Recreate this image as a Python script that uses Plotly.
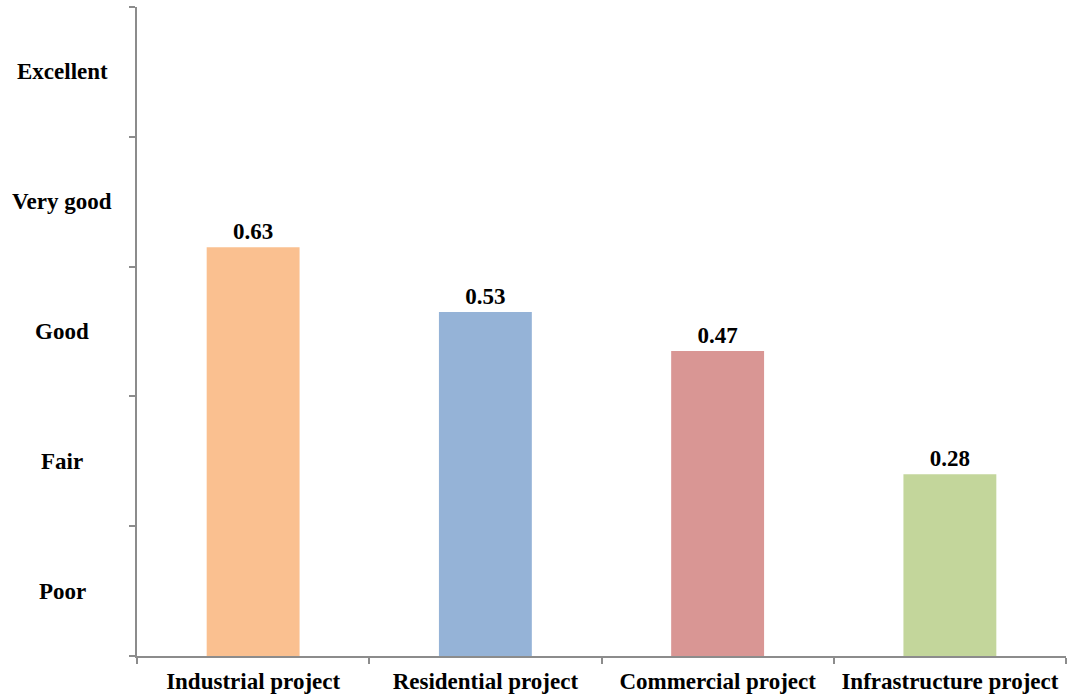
import plotly.graph_objects as go

# Project types and their mean rating scores
categories = ["Industrial project", "Residential project", "Commercial project", "Infrastructure project"]
scores = [0.63, 0.53, 0.47, 0.28]
bar_colors = ["#FAC090", "#95B3D7", "#D99694", "#C3D69B"]

# Verbal rating bands (band centres on the 0-1 score scale)
rating_labels = ["Poor", "Fair", "Good", "Very good", "Excellent"]
rating_centres = [0.1, 0.3, 0.5, 0.7, 0.9]
band_edges = [0, 0.2, 0.4, 0.6, 0.8, 1.0]

FONT = "Liberation Serif, Times New Roman, serif"
AXIS_GREY = "#8C8C8C"
FONT_SIZE = 23

# plot area in pixels
LEFT, RIGHT_EDGE = 137, 1066
LABEL_CENTRE_PX = 62

fig = go.Figure(
    go.Bar(
        x=categories,
        y=scores,
        width=0.4,
        marker=dict(color=bar_colors, line=dict(width=0)),
        text=[f"{v:.2f}" for v in scores],
        textposition="outside",
        cliponaxis=False,
        textfont=dict(family=FONT, size=FONT_SIZE, color="black", weight="bold"),
        hoverinfo="skip",
    )
)

for label, yc in zip(rating_labels, rating_centres):
    fig.add_annotation(
        x=(LABEL_CENTRE_PX - LEFT) / (RIGHT_EDGE - LEFT), xref="paper",
        y=yc, yref="y",
        text=label, showarrow=False,
        xanchor="center", yanchor="middle",
        font=dict(family=FONT, size=FONT_SIZE, color="black", weight="bold"),
    )

fig.update_layout(
    width=1067,
    height=697,
    margin=dict(l=LEFT, r=1067 - RIGHT_EDGE, t=7, b=41),
    paper_bgcolor="white",
    plot_bgcolor="white",
    showlegend=False,
    xaxis=dict(
        type="category",
        range=[-0.5, 3.5],
        tickson="boundaries",
        ticks="outside",
        ticklen=6,
        tickwidth=1.5,
        tickcolor=AXIS_GREY,
        showline=True,
        linecolor=AXIS_GREY,
        linewidth=1.5,
        showgrid=False,
        ticklabelstandoff=4,
        tickfont=dict(family=FONT, size=FONT_SIZE, color="black", weight="bold"),
    ),
    yaxis=dict(
        range=[0, 1],
        tickvals=band_edges,
        ticktext=[""] * len(band_edges),
        ticks="outside",
        ticklen=6,
        tickwidth=1.5,
        tickcolor=AXIS_GREY,
        showline=True,
        linecolor=AXIS_GREY,
        linewidth=1.5,
        showgrid=False,
        zeroline=False,
    ),
)

fig.write_html("out.html")
